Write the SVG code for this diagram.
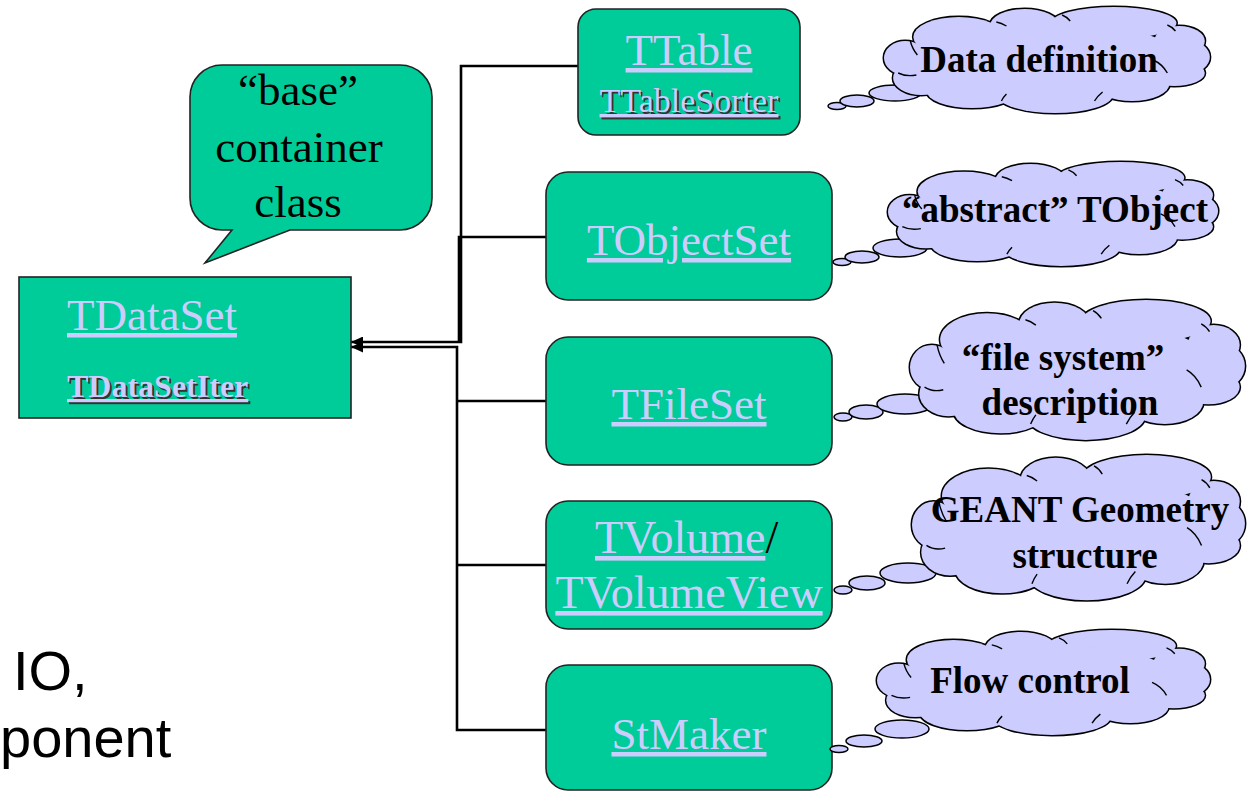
<svg xmlns="http://www.w3.org/2000/svg" xmlns:xlink="http://www.w3.org/1999/xlink" width="1252" height="792" viewBox="0 0 1252 792">
  <style>
    .box { fill: #00CC99; stroke: #222; stroke-width: 1.6; }
    .cls { font-family: "Liberation Serif", "Times New Roman", serif; fill: #CCCCFF; text-decoration: underline; }
    .shadow { font-family: "Liberation Serif", "Times New Roman", serif; fill: #333; text-decoration: underline; }
    .note { font-family: "Liberation Serif", "Times New Roman", serif; font-weight: bold; font-size: 37px; fill: #000; text-anchor: middle; }
    .say { font-family: "Liberation Serif", "Times New Roman", serif; font-size: 45px; fill: #000; text-anchor: middle; }
    .side { font-family: "Liberation Sans", Arial, sans-serif; font-size: 56px; fill: #000; }
    .wire { fill: none; stroke: #000; stroke-width: 2.6; }
    .puff { fill: #CCCCFF; stroke: #000; stroke-width: 1.5; }
    .lobes-edge { fill: #CCCCFF; stroke: #000; stroke-width: 3; }
    .lobes-fill { fill: #CCCCFF; stroke: none; }
    .crease { fill: none; stroke: #000; stroke-width: 1.4; }
  </style>
  <defs>
    <marker id="head" viewBox="0 0 12 11" refX="12" refY="5.5" markerWidth="12" markerHeight="11" markerUnits="userSpaceOnUse" orient="auto">
      <path d="M0,0 L12,5.5 L0,11 Z" fill="#000"/>
    </marker>
    <!-- cloud body built from overlapping lobes in a 322 x 106 frame -->
    <g id="lobes">
      <ellipse cx="21" cy="51" rx="21" ry="17" vector-effect="non-scaling-stroke"/>
      <ellipse cx="37" cy="71" rx="28" ry="17" vector-effect="non-scaling-stroke"/>
      <ellipse cx="74" cy="30" rx="45" ry="20" vector-effect="non-scaling-stroke"/>
      <ellipse cx="139" cy="18" rx="34" ry="16" vector-effect="non-scaling-stroke"/>
      <ellipse cx="227" cy="16" rx="62" ry="16" vector-effect="non-scaling-stroke"/>
      <ellipse cx="292" cy="34" rx="25" ry="15" vector-effect="non-scaling-stroke"/>
      <ellipse cx="302" cy="50" rx="20" ry="16" vector-effect="non-scaling-stroke"/>
      <ellipse cx="287" cy="66" rx="30" ry="13" vector-effect="non-scaling-stroke"/>
      <ellipse cx="245" cy="77" rx="37" ry="17" vector-effect="non-scaling-stroke"/>
      <ellipse cx="169" cy="88" rx="57" ry="18" vector-effect="non-scaling-stroke"/>
      <ellipse cx="87" cy="84" rx="45" ry="17" vector-effect="non-scaling-stroke"/>
      <ellipse cx="160" cy="53" rx="135" ry="38" vector-effect="non-scaling-stroke"/>
    </g>
    <!-- small inner folds where the lobes meet -->
    <g id="creases">
      <path d="M26,34 Q28,42 33,48" vector-effect="non-scaling-stroke"/>
      <path d="M14,66 Q22,70 32,68" vector-effect="non-scaling-stroke"/>
      <path d="M111,15 Q116,16 121,19" vector-effect="non-scaling-stroke"/>
      <path d="M176,8 Q181,10 184,14" vector-effect="non-scaling-stroke"/>
      <path d="M280,18 Q285,20 288,24" vector-effect="non-scaling-stroke"/>
      <path d="M266,53 Q275,57 280,66" vector-effect="non-scaling-stroke"/>
      <path d="M116,94 Q118,90 121,87" vector-effect="non-scaling-stroke"/>
      <path d="M208,94 Q211,89 216,85" vector-effect="non-scaling-stroke"/>
    </g>
  </defs>

  <rect width="1252" height="792" fill="#fff"/>

  <!-- connectors -->
  <g id="connectors">
    <path class="wire" d="M578,66 H461 V342 H351" marker-end="url(#head)"/>
    <path class="wire" d="M546,237 H459 V342"/>
    <path class="wire" d="M546,730 H457 V347 H351" marker-end="url(#head)"/>
    <path class="wire" d="M546,401 H457"/>
    <path class="wire" d="M546,565 H457"/>
  </g>

  <!-- speech bubble -->
  <g id="base-note">
    <path class="box" d="M222,65 H400 A32,32 0 0 1 432,97 V198 A32,32 0 0 1 400,230 H290 L205,263 L232,230 H222 A32,32 0 0 1 190,198 V97 A32,32 0 0 1 222,65 Z"/>
    <text class="say" x="298" y="105">“base”</text>
    <text class="say" x="299" y="162">container</text>
    <text class="say" x="298" y="217">class</text>
  </g>

  <g id="TDataSet">
    <rect class="box" x="19" y="277" width="332" height="141"/>
    <text class="cls" x="67" y="330" font-size="45">TDataSet</text>
    <text class="shadow" x="69" y="399" font-size="32" font-weight="bold">TDataSetIter</text>
    <text class="cls" x="67" y="397" font-size="32" font-weight="bold">TDataSetIter</text>
  </g>

  <g id="TTable">
    <rect class="box" x="578" y="9" width="222" height="126" rx="18"/>
    <text class="cls" x="689" y="65" font-size="45" text-anchor="middle">TTable</text>
    <text class="shadow" x="691" y="114" font-size="34" text-anchor="middle">TTableSorter</text>
    <text class="cls" x="689" y="112" font-size="34" text-anchor="middle">TTableSorter</text>
  </g>

  <g id="TObjectSet">
    <rect class="box" x="546" y="172" width="286" height="128" rx="22"/>
    <text class="cls" x="689" y="255" font-size="45" text-anchor="middle">TObjectSet</text>
  </g>

  <g id="TFileSet">
    <rect class="box" x="546" y="337" width="286" height="128" rx="22"/>
    <text class="cls" x="689" y="419" font-size="45" text-anchor="middle">TFileSet</text>
  </g>

  <g id="TVolume">
    <rect class="box" x="546" y="501" width="286" height="128" rx="22"/>
    <text x="595" y="553" font-size="46" font-family="Liberation Serif, Times New Roman, serif"><tspan fill="#CCCCFF" text-decoration="underline">TVolume</tspan><tspan fill="#000">/</tspan></text>
    <text class="cls" x="689" y="608" font-size="46" text-anchor="middle">TVolumeView</text>
  </g>

  <g id="StMaker">
    <rect class="box" x="546" y="665" width="286" height="125" rx="22"/>
    <text class="cls" x="689" y="749" font-size="45" text-anchor="middle">StMaker</text>
  </g>

  <!-- thought clouds -->
  <g id="note-data">
    <ellipse class="puff" cx="837" cy="106" rx="9" ry="3.5"/>
    <ellipse class="puff" cx="857" cy="101" rx="17" ry="6"/>
    <ellipse class="puff" cx="895" cy="93" rx="26" ry="8"/>
    <g transform="translate(884,7) scale(1.012,1)">
      <use xlink:href="#lobes" class="lobes-edge"/>
      <use xlink:href="#lobes" class="lobes-fill"/>
      <use xlink:href="#creases" class="crease"/>
    </g>
    <text class="note" x="1039" y="72">Data definition</text>
  </g>

  <g id="note-object">
    <ellipse class="puff" cx="842" cy="262" rx="9" ry="3.5"/>
    <ellipse class="puff" cx="862" cy="257" rx="17" ry="6"/>
    <ellipse class="puff" cx="900" cy="248" rx="27" ry="9"/>
    <g transform="translate(888,162) scale(1.025,0.98)">
      <use xlink:href="#lobes" class="lobes-edge"/>
      <use xlink:href="#lobes" class="lobes-fill"/>
      <use xlink:href="#creases" class="crease"/>
    </g>
    <text class="note" x="1055" y="222" font-size="38">“abstract” TObject</text>
  </g>

  <g id="note-file">
    <ellipse class="puff" cx="843" cy="417" rx="9" ry="4"/>
    <ellipse class="puff" cx="866" cy="412" rx="17" ry="7"/>
    <ellipse class="puff" cx="905" cy="404" rx="28" ry="10"/>
    <g transform="translate(910,300) scale(1.04,1.32)">
      <use xlink:href="#lobes" class="lobes-edge"/>
      <use xlink:href="#lobes" class="lobes-fill"/>
      <use xlink:href="#creases" class="crease"/>
    </g>
    <text class="note" x="1063" y="370">“file system”</text>
    <text class="note" x="1070" y="415">description</text>
  </g>

  <g id="note-geant">
    <ellipse class="puff" cx="843" cy="590" rx="9" ry="4"/>
    <ellipse class="puff" cx="867" cy="583" rx="18" ry="7"/>
    <ellipse class="puff" cx="908" cy="573" rx="28" ry="10"/>
    <g transform="translate(912,455) scale(1.034,1.37)">
      <use xlink:href="#lobes" class="lobes-edge"/>
      <use xlink:href="#lobes" class="lobes-fill"/>
      <use xlink:href="#creases" class="crease"/>
    </g>
    <text class="note" x="1080" y="522" font-size="38">GEANT Geometry</text>
    <text class="note" x="1085" y="568" font-size="38">structure</text>
  </g>

  <g id="note-flow">
    <ellipse class="puff" cx="839" cy="749" rx="9" ry="3.5"/>
    <ellipse class="puff" cx="864" cy="741" rx="18" ry="6"/>
    <ellipse class="puff" cx="902" cy="729" rx="27" ry="9"/>
    <g transform="translate(877,630) scale(1.034,0.99)">
      <use xlink:href="#lobes" class="lobes-edge"/>
      <use xlink:href="#lobes" class="lobes-fill"/>
      <use xlink:href="#creases" class="crease"/>
    </g>
    <text class="note" x="1030" y="693">Flow control</text>
  </g>

  <!-- partial slide text at the left edge -->
  <g id="side-text">
    <text class="side" x="13" y="690">IO,</text>
    <text class="side" x="0" y="757">ponent</text>
  </g>
</svg>
